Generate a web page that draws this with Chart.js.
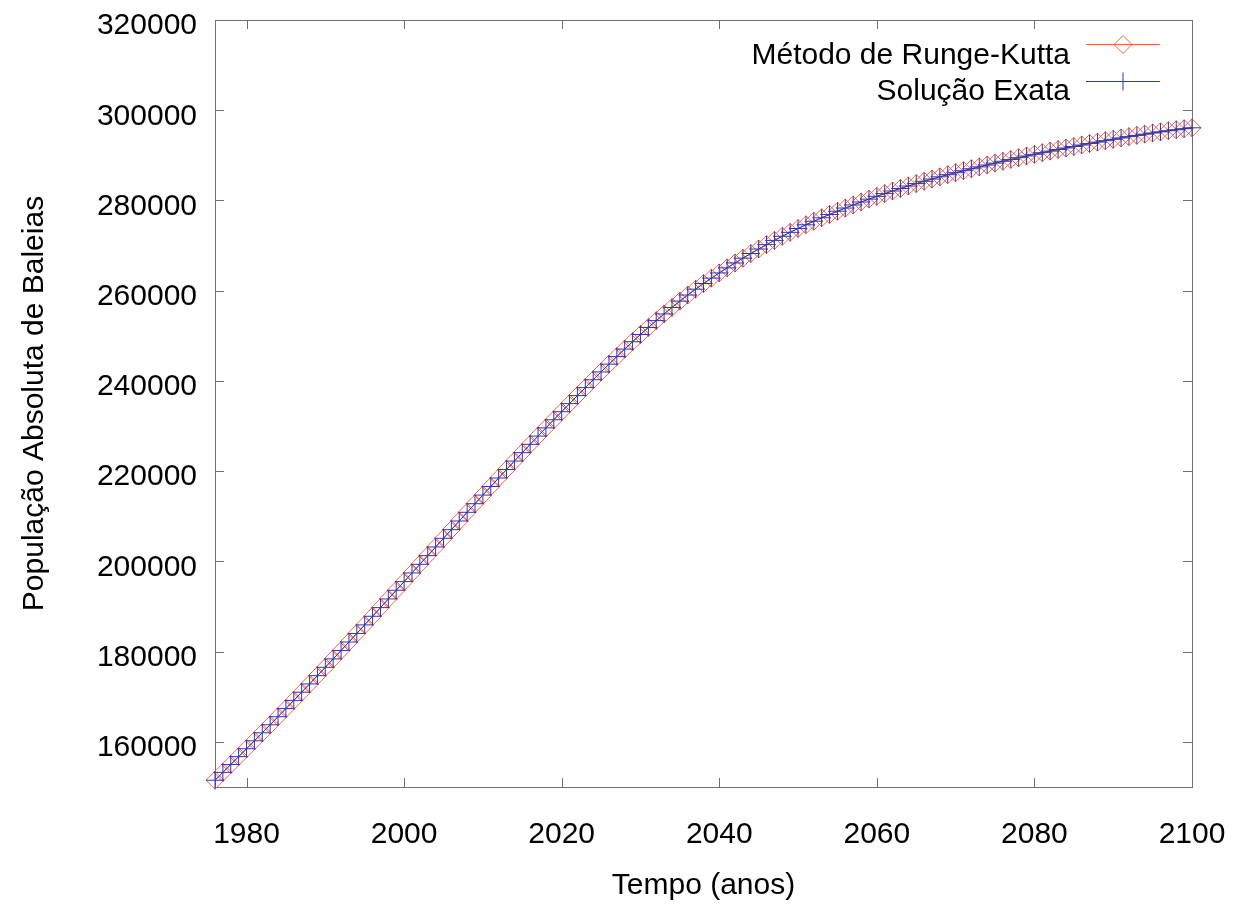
<!DOCTYPE html>
<html>
<head>
<meta charset="utf-8">
<title>População de Baleias</title>
<script src="https://cdn.jsdelivr.net/npm/chart.js@4.4.1/dist/chart.umd.min.js"></script>
<style>
  html, body { margin: 0; padding: 0; background: #fff; }
  canvas { display: block; }
</style>
</head>
<body>
<canvas id="whaleChart" width="1245" height="905"></canvas>
<script>
// anos simulados (um ponto por ano)
var years = [];
for (var yr = 1976; yr <= 2100; yr++) years.push(yr);

// população, 1976..2100
var rkPop = [
  151500, 153240, 154980, 156730, 158480, 160240, 162010, 163790, 165580, 167380,
  169190, 171010, 172840, 174680, 176530, 178390, 180260, 182140, 184030, 185930,
  187840, 189760, 191680, 193600, 195520, 197440, 199360, 201280, 203200, 205120,
  207040, 208960, 210880, 212790, 214700, 216600, 218490, 220370, 222240, 224100,
  225950, 227780, 229600, 231400, 233180, 234970, 236750, 238520, 240270, 242000,
  243710, 245400, 247060, 248690, 250290, 251850, 253370, 254850, 256290, 257690,
  259040, 260340, 261590, 262790, 263940, 265060, 266150, 267210, 268240, 269240,
  270210, 271150, 272060, 272940, 273790, 274610, 275400, 276160, 276900, 277620,
  278320, 279000, 279660, 280300, 280920, 281520, 282100, 282660, 283210, 283740,
  284250, 284750, 285240, 285710, 286160, 286600, 287030, 287440, 287860, 288280,
  288690, 289090, 289480, 289860, 290230, 290590, 290940, 291290, 291630, 291960,
  292290, 292620, 292940, 293250, 293560, 293860, 294150, 294430, 294700, 294960,
  295210, 295450, 295680, 295900, 296110
];
// a solução exata coincide com RK no gráfico
var exactPop = rkPop.slice();

var xTickLabels = [1980, 2000, 2020, 2040, 2060, 2080, 2100];
var yTickLabels = [160000, 180000, 200000, 220000, 240000, 260000, 280000, 300000, 320000];

var seriesNames = ['Método de Runge-Kutta', 'Solução Exata'];
var redColor = 'rgb(250,95,65)';
var blueColor = 'rgb(45,55,175)';
var fontFamily = '"Liberation Sans", Arial, sans-serif';

function toPoints(vals) {
  return years.map(function (y, i) { return { x: y, y: vals[i] }; });
}

// moldura e marcas de escala para dentro (estilo gnuplot)
var frameTicks = {
  id: 'frameTicks',
  beforeDatasetsDraw: function (chart) {
    var ctx = chart.ctx, a = chart.chartArea;
    var xs = chart.scales.x, ys = chart.scales.y;
    var len = 9;
    ctx.save();
    ctx.strokeStyle = '#707070';
    ctx.lineWidth = 1;
    ctx.beginPath();
    xs.ticks.forEach(function (t) {
      var px = Math.round(xs.getPixelForValue(t.value)) + 0.5;
      ctx.moveTo(px, a.bottom); ctx.lineTo(px, a.bottom - len);
      ctx.moveTo(px, a.top); ctx.lineTo(px, a.top + len);
    });
    ys.ticks.forEach(function (t) {
      var py = Math.round(ys.getPixelForValue(t.value)) + 0.5;
      ctx.moveTo(a.left, py); ctx.lineTo(a.left + len, py);
      ctx.moveTo(a.right, py); ctx.lineTo(a.right - len, py);
    });
    ctx.stroke();
    ctx.strokeRect(Math.round(a.left) + 0.5, Math.round(a.top) + 0.5,
      Math.round(a.right - a.left), Math.round(a.bottom - a.top));
    ctx.restore();
  },
  afterDraw: function (chart) {
    // legenda no canto superior direito
    var ctx = chart.ctx;
    var rows = [
      { label: seriesNames[0], color: redColor, marker: 'diamond', lineY: 44.5, textY: 63.5 },
      { label: seriesNames[1], color: blueColor, marker: 'plus', lineY: 81.5, textY: 99.5 }
    ];
    ctx.save();
    ctx.font = '30px ' + fontFamily;
    ctx.textAlign = 'right';
    ctx.textBaseline = 'alphabetic';
    rows.forEach(function (r) {
      ctx.fillStyle = '#000';
      ctx.fillText(r.label, 1070, r.textY);
      ctx.strokeStyle = r.color;
      ctx.lineWidth = 1;
      ctx.beginPath();
      ctx.moveTo(1086, r.lineY); ctx.lineTo(1160, r.lineY);
      var cx = 1123, rad = 9;
      if (r.marker === 'diamond') {
        ctx.moveTo(cx, r.lineY - rad); ctx.lineTo(cx + rad, r.lineY);
        ctx.lineTo(cx, r.lineY + rad); ctx.lineTo(cx - rad, r.lineY);
        ctx.closePath();
      } else {
        ctx.moveTo(cx, r.lineY - rad); ctx.lineTo(cx, r.lineY + rad);
      }
      ctx.stroke();
    });
    ctx.restore();
  }
};

var ctx = document.getElementById('whaleChart').getContext('2d');
var chart = new Chart(ctx, {
  type: 'line',
  data: {
    datasets: [{
      label: seriesNames[0],
      data: toPoints(rkPop),
      borderColor: redColor,
      borderWidth: 1,
      pointStyle: 'rectRot',
      pointRadius: 9,
      pointBorderWidth: 1,
      pointBorderColor: redColor,
      pointBackgroundColor: 'rgba(0,0,0,0)',
      fill: false,
      tension: 0,
      clip: false,
      order: 2
    }, {
      label: seriesNames[1],
      data: toPoints(exactPop),
      borderColor: blueColor,
      borderWidth: 1,
      pointStyle: 'cross',
      pointRadius: 9,
      pointBorderWidth: 1,
      pointBorderColor: blueColor,
      fill: false,
      tension: 0,
      clip: false,
      order: 1
    }]
  },
  options: {
    responsive: false,
    animation: false,
    devicePixelRatio: 1,
    layout: { padding: { top: 20, right: 53, left: 0, bottom: 0 } },
    plugins: {
      legend: { display: false },
      tooltip: { enabled: false }
    },
    scales: {
      x: {
        type: 'linear',
        min: 1976,
        max: 2100,
        afterBuildTicks: function (scale) {
          scale.ticks = xTickLabels.map(function (v) { return { value: v }; });
        },
        afterFit: function (scale) {
          scale.height = 118;
          scale.paddingLeft = 0;
          scale.paddingRight = 0;
        },
        grid: { display: false, drawTicks: false, tickLength: 0 },
        border: { display: false },
        ticks: {
          color: '#000',
          padding: 30,
          maxRotation: 0,
          autoSkip: false,
          font: { family: fontFamily, size: 30 },
          callback: function (v) { return String(v); }
        },
        title: {
          display: true,
          text: 'Tempo (anos)',
          color: '#000',
          padding: { top: 0, bottom: 1 },
          font: { family: fontFamily, size: 30 }
        }
      },
      y: {
        type: 'linear',
        min: 150000,
        max: 320000,
        afterBuildTicks: function (scale) {
          scale.ticks = yTickLabels.map(function (v) { return { value: v }; });
        },
        afterFit: function (scale) {
          scale.width = 215;
          scale.paddingTop = 0;
          scale.paddingBottom = 0;
        },
        grid: { display: false, drawTicks: false, tickLength: 0 },
        border: { display: false },
        ticks: {
          color: '#000',
          padding: 18,
          labelOffset: 6,
          autoSkip: false,
          font: { family: fontFamily, size: 30 },
          callback: function (v) { return String(v); }
        },
        title: {
          display: true,
          text: 'População Absoluta de Baleias',
          color: '#000',
          padding: { top: 17, bottom: 0 },
          font: { family: fontFamily, size: 30 }
        }
      }
    }
  },
  plugins: [frameTicks]
});
</script>
</body>
</html>
